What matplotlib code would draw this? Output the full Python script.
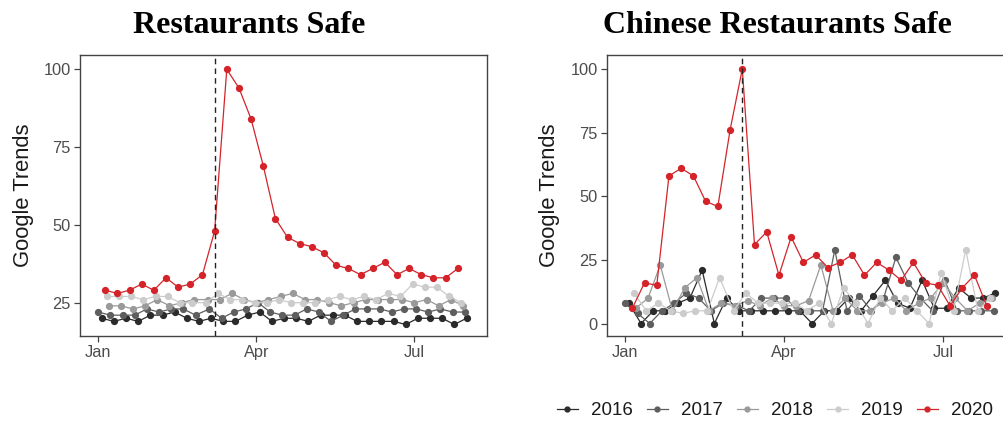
import matplotlib
matplotlib.use("Agg")
import matplotlib.pyplot as plt
import pandas as pd
from matplotlib.lines import Line2D

# ---------------- data ----------------
years = ["2016", "2017", "2018", "2019", "2020"]
first_week = {"2016": "2016-01-03", "2017": "2017-01-01", "2018": "2018-01-07",
              "2019": "2019-01-06", "2020": "2020-01-05"}
colors = {"2016": "#2b2b2b", "2017": "#5e5e5e", "2018": "#9a9a9a",
          "2019": "#cccccc", "2020": "#d4242a"}

# "Restaurants Safe"
left_2016 = [20, 19, 20, 19, 21, 21, 22, 20, 19, 20, 19, 19, 21, 22, 19, 20, 20, 19, 21, 21,
             21, 19, 19, 19, 19, 18, 20, 20, 20, 18, 20]
left_2017 = [22, 21, 21, 21, 23, 22, 23, 23, 21, 23, 20, 22, 23, 25, 22, 21, 21, 23, 22, 19,
             21, 23, 23, 23, 22, 23, 23, 22, 23, 22, 22]
left_2018 = [24, 24, 23, 24, 26, 24, 25, 26, 26, 26, 28, 26, 25, 26, 27, 28, 26, 26, 25, 24,
             25, 26, 26, 26, 26, 25, 26, 24, 26, 24]
left_2019 = [27, 27, 27, 26, 27, 27, 25, 25, 25, 28, 26, 26, 25, 25, 26, 25, 25, 25, 26, 27,
             26, 27, 26, 28, 27, 31, 30, 30, 27, 25]
left_2020 = [29, 28, 29, 31, 29, 33, 30, 31, 34, 48, 100, 94, 84, 69, 52, 46, 44, 43, 41, 37,
             36, 34, 36, 38, 34, 36, 34, 33, 33, 36]

# "Chinese Restaurants Safe"
right_2016 = [8, 0, 5, 5, 8, 10, 21, 0, 10, 5, 5, 5, 5, 5, 5, 0, 5, 5, 10, 5,
              11, 17, 8, 6, 17, 6, 6, 14, 10, 10, 12]
right_2017 = [8, 4, 0, 5, 8, 12, 10, 5, 8, 7, 5, 10, 10, 10, 5, 5, 5, 29, 5, 11,
              5, 10, 26, 16, 10, 5, 17, 5, 5, 5, 5]
right_2018 = [6, 10, 23, 5, 14, 18, 5, 8, 7, 9, 7, 10, 7, 7, 9, 23, 5, 10, 5, 5,
              8, 10, 5, 8, 10, 16, 10, 5, 8, 10]
right_2019 = [12, 5, 8, 5, 4, 5, 5, 18, 5, 12, 8, 8, 8, 8, 5, 8, 0, 14, 8, 0,
              10, 5, 10, 5, 0, 20, 5, 29, 5, 10]
right_2020 = [6, 16, 15, 58, 61, 58, 48, 46, 76, 100, 31, 36, 19, 34, 24, 27, 22, 24, 27, 19,
              24, 21, 17, 24, 16, 15, 7, 14, 19, 7]

left_data = {"2016": left_2016, "2017": left_2017, "2018": left_2018,
             "2019": left_2019, "2020": left_2020}
right_data = {"2016": right_2016, "2017": right_2017, "2018": right_2018,
              "2019": right_2019, "2020": right_2020}

titles = ["Restaurants Safe", "Chinese Restaurants Safe"]
event_date = "2020-03-08"
x_tick_dates = ["2020-01-01", "2020-04-01", "2020-07-01"]
x_tick_labels = ["Jan", "Apr", "Jul"]
y_ticks_left = [25, 50, 75, 100]
y_ticks_right = [0, 25, 50, 75, 100]


def week_dates(year, n):
    d = pd.date_range(first_week[year], periods=n, freq="7D")
    # map every year onto a common calendar year
    return [pd.Timestamp(2020, t.month, t.day) for t in d]


# ---------------- figure ----------------
W, H = 1004, 424
fig = plt.figure(figsize=(W / 100, H / 100), dpi=100)
fig.patch.set_facecolor("white")

tick_font = "Liberation Sans"
title_font = "Liberation Serif"

jan1 = pd.Timestamp("2020-01-01")
xlim = (jan1 - pd.Timedelta(days=10.5), jan1 + pd.Timedelta(days=223.8))


def px_box(x0, y0, x1, y1):
    return [x0 / W, 1 - y1 / H, (x1 - x0) / W, (y1 - y0) / H]


ax_l = fig.add_axes(px_box(80, 55, 487, 336))
ax_r = fig.add_axes(px_box(607, 55, 607 + 409, 336))

for ax, data, yt, ylim in [(ax_l, left_data, y_ticks_left, (14.3, 104.6)),
                           (ax_r, right_data, y_ticks_right, (-4.9, 105.5))]:
    for yr in years:
        vals = data[yr]
        ax.plot(week_dates(yr, len(vals)), vals, color=colors[yr], lw=0.9,
                marker="o", ms=4.2, mec=colors[yr], mfc=colors[yr], zorder=3)
    ax.axvline(pd.Timestamp(event_date), color="#222222", lw=1.0,
               dashes=(4, 3), zorder=4)
    ax.set_xlim(*xlim)
    ax.set_ylim(*ylim)
    ax.set_xticks([pd.Timestamp(d) for d in x_tick_dates])
    ax.set_xticklabels(x_tick_labels)
    ax.set_yticks(yt)
    ax.set_yticklabels([str(v) for v in yt])
    for s in ax.spines.values():
        s.set_color("#444444")
        s.set_linewidth(1.0)
    ax.tick_params(axis="both", length=4, width=0.9, color="#444444",
                   labelcolor="#4d4d4d", labelsize=11.8, pad=2.5)
    for lab in ax.get_xticklabels() + ax.get_yticklabels():
        lab.set_fontfamily(tick_font)

# titles
fig.text(249 / W, 1 - 33 / H, titles[0], ha="center", va="baseline",
         fontsize=23, fontweight="bold", family=title_font, color="black")
fig.text(777 / W, 1 - 33 / H, titles[1], ha="center", va="baseline",
         fontsize=23, fontweight="bold", family=title_font, color="black")

# y labels
for xc in (24, 550):
    fig.text(xc / W, 1 - 195.5 / H, "Google Trends", rotation=90,
             ha="center", va="center", fontsize=15.8, family=tick_font,
             color="#1a1a1a")

# legend
handles = [Line2D([0], [0], color=colors[y], lw=0.9, marker="o", ms=3.5,
                  mfc=colors[y], mec=colors[y]) for y in years]
leg = fig.legend(handles, years, loc="center", ncol=5,
                 bbox_to_anchor=(775 / W, 1 - 410.5 / H),
                 frameon=False, prop={"family": tick_font, "size": 13.5},
                 handlelength=1.15, handletextpad=0.7, columnspacing=0.72,
                 borderaxespad=0, borderpad=0)
for t in leg.get_texts():
    t.set_color("#1a1a1a")

fig.savefig("out.png", dpi=100, facecolor="white")
